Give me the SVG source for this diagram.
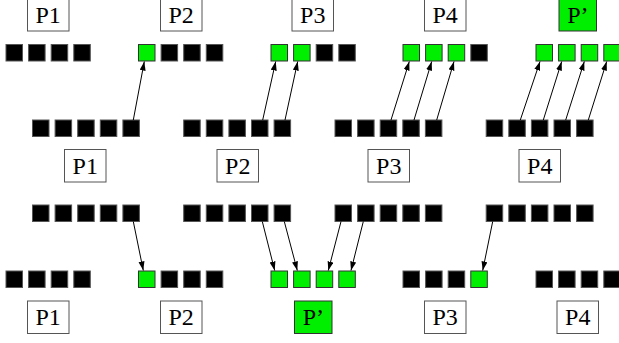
<svg xmlns="http://www.w3.org/2000/svg" width="619" height="343" viewBox="0 0 619 343">
  <defs>
    <style>
      .b { fill: #000; stroke: #555; stroke-width: 1; }
      .g { fill: #00ee00; stroke: #333; stroke-width: 1; }
      .box { fill: #fff; stroke: #555; stroke-width: 1; }
      .pbox { fill: #00ee00; stroke: #333; stroke-width: 1; }
      .arr { stroke: #000; stroke-width: 1; fill: none; marker-end: url(#ah); }
    </style>
    <marker id="ah" markerUnits="userSpaceOnUse" markerWidth="10" markerHeight="7" refX="9" refY="3" orient="auto">
      <path d="M0,0 L9,3 L0,6 z" fill="#000"/>
    </marker>
  </defs>
  <rect width="619" height="343" fill="#fff"/>

  <!-- top row: arrays and labels -->
  <g font-family="'Liberation Serif', 'Times New Roman', 'DejaVu Serif', serif" font-size="24" text-anchor="middle" fill="#000">
  <g id="top-p1">
    <rect class="box" x="27.5" y="-1.5" width="41.5" height="32.5"/>
    <text x="48.2" y="23">P1</text>
    <rect class="b" x="6" y="44.5" width="16.5" height="16.5"/>
    <rect class="b" x="28.6" y="44.5" width="16.5" height="16.5"/>
    <rect class="b" x="51.2" y="44.5" width="16.5" height="16.5"/>
    <rect class="b" x="73.8" y="44.5" width="16.5" height="16.5"/>
  </g>
  <g id="top-p2">
    <rect class="box" x="160.5" y="-1.5" width="41.5" height="32.5"/>
    <text x="181.2" y="23">P2</text>
    <rect class="g" x="138.5" y="44.5" width="16.5" height="16.5"/>
    <rect class="b" x="161.1" y="44.5" width="16.5" height="16.5"/>
    <rect class="b" x="183.7" y="44.5" width="16.5" height="16.5"/>
    <rect class="b" x="206.3" y="44.5" width="16.5" height="16.5"/>
  </g>
  <g id="top-p3">
    <rect class="box" x="292" y="-1.5" width="41.5" height="32.5"/>
    <text x="312.8" y="23">P3</text>
    <rect class="g" x="271" y="44.5" width="16.5" height="16.5"/>
    <rect class="g" x="293.6" y="44.5" width="16.5" height="16.5"/>
    <rect class="b" x="316.2" y="44.5" width="16.5" height="16.5"/>
    <rect class="b" x="338.8" y="44.5" width="16.5" height="16.5"/>
  </g>
  <g id="top-p4">
    <rect class="box" x="424.5" y="-1.5" width="41.5" height="32.5"/>
    <text x="445.2" y="23">P4</text>
    <rect class="g" x="403" y="44.5" width="16.5" height="16.5"/>
    <rect class="g" x="425.6" y="44.5" width="16.5" height="16.5"/>
    <rect class="g" x="448.2" y="44.5" width="16.5" height="16.5"/>
    <rect class="b" x="470.8" y="44.5" width="16.5" height="16.5"/>
  </g>
  <g id="top-pprime">
    <rect class="pbox" x="559" y="-1.5" width="37.5" height="32.5"/>
    <text x="577.8" y="23">P’</text>
    <rect class="g" x="536" y="44.5" width="16.5" height="16.5"/>
    <rect class="g" x="558.6" y="44.5" width="16.5" height="16.5"/>
    <rect class="g" x="581.2" y="44.5" width="16.5" height="16.5"/>
    <rect class="g" x="603.8" y="44.5" width="16.5" height="16.5"/>
  </g>

  <!-- middle: source arrays with labels -->
  <g id="mid-p1">
    <rect class="b" x="32.5" y="120" width="16.5" height="16.5"/>
    <rect class="b" x="55.1" y="120" width="16.5" height="16.5"/>
    <rect class="b" x="77.7" y="120" width="16.5" height="16.5"/>
    <rect class="b" x="100.3" y="120" width="16.5" height="16.5"/>
    <rect class="b" x="122.9" y="120" width="16.5" height="16.5"/>
    <rect class="box" x="64.5" y="149.5" width="41.5" height="32.5"/>
    <text x="85.3" y="173.5">P1</text>
    <rect class="b" x="32.5" y="205" width="16.5" height="16.5"/>
    <rect class="b" x="55.1" y="205" width="16.5" height="16.5"/>
    <rect class="b" x="77.7" y="205" width="16.5" height="16.5"/>
    <rect class="b" x="100.3" y="205" width="16.5" height="16.5"/>
    <rect class="b" x="122.9" y="205" width="16.5" height="16.5"/>
  </g>
  <g id="mid-p2">
    <rect class="b" x="183.7" y="120" width="16.5" height="16.5"/>
    <rect class="b" x="206.3" y="120" width="16.5" height="16.5"/>
    <rect class="b" x="228.9" y="120" width="16.5" height="16.5"/>
    <rect class="b" x="251.5" y="120" width="16.5" height="16.5"/>
    <rect class="b" x="274.1" y="120" width="16.5" height="16.5"/>
    <rect class="box" x="217" y="149.5" width="41.5" height="32.5"/>
    <text x="237.8" y="173.5">P2</text>
    <rect class="b" x="183.7" y="205" width="16.5" height="16.5"/>
    <rect class="b" x="206.3" y="205" width="16.5" height="16.5"/>
    <rect class="b" x="228.9" y="205" width="16.5" height="16.5"/>
    <rect class="b" x="251.5" y="205" width="16.5" height="16.5"/>
    <rect class="b" x="274.1" y="205" width="16.5" height="16.5"/>
  </g>
  <g id="mid-p3">
    <rect class="b" x="335" y="120" width="16.5" height="16.5"/>
    <rect class="b" x="357.6" y="120" width="16.5" height="16.5"/>
    <rect class="b" x="380.2" y="120" width="16.5" height="16.5"/>
    <rect class="b" x="402.8" y="120" width="16.5" height="16.5"/>
    <rect class="b" x="425.4" y="120" width="16.5" height="16.5"/>
    <rect class="box" x="368" y="149.5" width="41.5" height="32.5"/>
    <text x="388.8" y="173.5">P3</text>
    <rect class="b" x="335" y="205" width="16.5" height="16.5"/>
    <rect class="b" x="357.6" y="205" width="16.5" height="16.5"/>
    <rect class="b" x="380.2" y="205" width="16.5" height="16.5"/>
    <rect class="b" x="402.8" y="205" width="16.5" height="16.5"/>
    <rect class="b" x="425.4" y="205" width="16.5" height="16.5"/>
  </g>
  <g id="mid-p4">
    <rect class="b" x="486.2" y="120" width="16.5" height="16.5"/>
    <rect class="b" x="508.8" y="120" width="16.5" height="16.5"/>
    <rect class="b" x="531.4" y="120" width="16.5" height="16.5"/>
    <rect class="b" x="554" y="120" width="16.5" height="16.5"/>
    <rect class="b" x="576.6" y="120" width="16.5" height="16.5"/>
    <rect class="box" x="519" y="149.5" width="41.5" height="32.5"/>
    <text x="539.8" y="173.5">P4</text>
    <rect class="b" x="486.2" y="205" width="16.5" height="16.5"/>
    <rect class="b" x="508.8" y="205" width="16.5" height="16.5"/>
    <rect class="b" x="531.4" y="205" width="16.5" height="16.5"/>
    <rect class="b" x="554" y="205" width="16.5" height="16.5"/>
    <rect class="b" x="576.6" y="205" width="16.5" height="16.5"/>
  </g>

  <!-- bottom row: arrays and labels -->
  <g id="bot-p1">
    <rect class="b" x="6" y="271" width="16.5" height="16.5"/>
    <rect class="b" x="28.6" y="271" width="16.5" height="16.5"/>
    <rect class="b" x="51.2" y="271" width="16.5" height="16.5"/>
    <rect class="b" x="73.8" y="271" width="16.5" height="16.5"/>
    <rect class="box" x="27.5" y="301" width="41.5" height="32.5"/>
    <text x="48.2" y="325">P1</text>
  </g>
  <g id="bot-p2">
    <rect class="g" x="138.5" y="271" width="16.5" height="16.5"/>
    <rect class="b" x="161.1" y="271" width="16.5" height="16.5"/>
    <rect class="b" x="183.7" y="271" width="16.5" height="16.5"/>
    <rect class="b" x="206.3" y="271" width="16.5" height="16.5"/>
    <rect class="box" x="160.5" y="301" width="41.5" height="32.5"/>
    <text x="181.2" y="325">P2</text>
  </g>
  <g id="bot-pprime">
    <rect class="g" x="271" y="271" width="16.5" height="16.5"/>
    <rect class="g" x="293.6" y="271" width="16.5" height="16.5"/>
    <rect class="g" x="316.2" y="271" width="16.5" height="16.5"/>
    <rect class="g" x="338.8" y="271" width="16.5" height="16.5"/>
    <rect class="pbox" x="294.5" y="301" width="37.5" height="32.5"/>
    <text x="313.3" y="325">P’</text>
  </g>
  <g id="bot-p3">
    <rect class="b" x="403" y="271" width="16.5" height="16.5"/>
    <rect class="b" x="425.6" y="271" width="16.5" height="16.5"/>
    <rect class="b" x="448.2" y="271" width="16.5" height="16.5"/>
    <rect class="g" x="470.8" y="271" width="16.5" height="16.5"/>
    <rect class="box" x="424.5" y="301" width="41.5" height="32.5"/>
    <text x="445.2" y="325">P3</text>
  </g>
  <g id="bot-p4">
    <rect class="b" x="536" y="271" width="16.5" height="16.5"/>
    <rect class="b" x="558.6" y="271" width="16.5" height="16.5"/>
    <rect class="b" x="581.2" y="271" width="16.5" height="16.5"/>
    <rect class="b" x="603.8" y="271" width="16.5" height="16.5"/>
    <rect class="box" x="557" y="301" width="41.5" height="32.5"/>
    <text x="577.8" y="325">P4</text>
  </g>
  </g>

  <!-- connectors -->
  <g id="connectors">
    <line class="arr" x1="133.3" y1="120" x2="144.3" y2="61.5"/>
    <line class="arr" x1="262.7" y1="120" x2="275.7" y2="61.5"/>
    <line class="arr" x1="285" y1="120" x2="297.7" y2="61.5"/>
    <line class="arr" x1="391" y1="120" x2="409.3" y2="61.5"/>
    <line class="arr" x1="414" y1="120" x2="431.7" y2="61.5"/>
    <line class="arr" x1="436.7" y1="120" x2="454" y2="61.5"/>
    <line class="arr" x1="520.3" y1="120" x2="540" y2="61.5"/>
    <line class="arr" x1="543.3" y1="120" x2="561.7" y2="61.5"/>
    <line class="arr" x1="565.7" y1="120" x2="584.3" y2="61.5"/>
    <line class="arr" x1="588.3" y1="120" x2="606.7" y2="61.5"/>

    <line class="arr" x1="133.3" y1="221.5" x2="143.3" y2="270.5"/>
    <line class="arr" x1="262.3" y1="221.5" x2="274.7" y2="270.5"/>
    <line class="arr" x1="284.3" y1="221.5" x2="297.3" y2="270.5"/>
    <line class="arr" x1="341" y1="221.5" x2="328.3" y2="270.5"/>
    <line class="arr" x1="363.3" y1="221.5" x2="351" y2="270.5"/>
    <line class="arr" x1="492.7" y1="221.5" x2="482.7" y2="270.5"/>
  </g>
</svg>
